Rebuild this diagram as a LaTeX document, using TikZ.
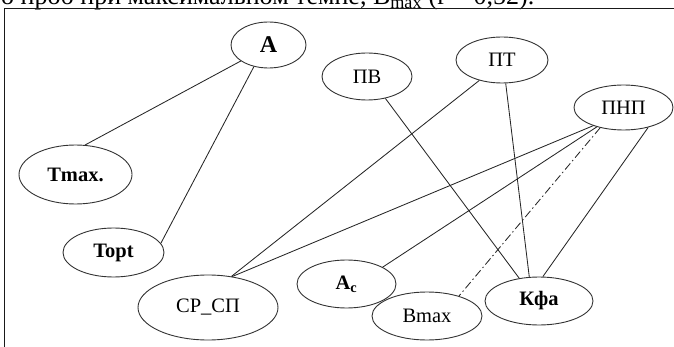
\documentclass[tikz,border=0pt]{standalone}
\usepackage{fontspec}
\setmainfont{Liberation Serif}
\usetikzlibrary{shapes.geometric}

\tikzset{
  factor/.style={ellipse, draw=black!80, line width=0.9pt, inner sep=0pt,
    font=\fontsize{20.5}{24}\selectfont},
  boldfactor/.style={factor, font=\fontsize{20.5}{24}\selectfont\bfseries},
  link/.style={draw=black!85, line width=0.85pt},
  weaklink/.style={link, dash pattern=on 8pt off 3pt on 1.5pt off 3pt},
}

\begin{document}
\begin{tikzpicture}[x=1pt,y=-1pt]
  \useasboundingbox (0,0) rectangle (674,347);
  \clip (0,0) rectangle (674,347);

  % caption line running into the top edge
  \node[anchor=base west, inner sep=0pt, font=\fontsize{26}{30}\selectfont]
    (caption) at (1,5) {о проб при максимальном темпе, B\textsubscript{max} (r = 0,52).};

  % frame
  \draw[line width=1.5pt, black!90] (4.5,347) -- (4.5,8.5) -- (674,8.5);

  % factors
  \node[boldfactor, minimum width=75pt, minimum height=46pt,
        font=\fontsize{24}{27}\selectfont\bfseries] (A) at (268.5,45) {A};
  \node[factor, minimum width=90pt, minimum height=47pt] (PV) at (367,76.5) {ПВ};
  \node[factor, minimum width=92pt, minimum height=46pt] (PT) at (502,60) {ПТ};
  \node[factor, minimum width=99pt, minimum height=45pt] (PNP) at (623.5,107.5) {ПНП};
  \node[boldfactor, minimum width=113pt, minimum height=59pt] (Tmax) at (75.5,174.5) {Tmax.};
  \node[boldfactor, minimum width=101pt, minimum height=49pt] (Topt) at (113.5,252.5) {Topt};
  \node[factor, minimum width=140pt, minimum height=65pt] (SRSP) at (208,307.5) {СР\_СП};
  \node[boldfactor, minimum width=99pt, minimum height=48pt] (Ac) at (346.5,284) {A\textsubscript{c}};
  \node[factor, minimum width=110pt, minimum height=48pt] (Bmax) at (427,316) {Bmax};
  \node[boldfactor, minimum width=108pt, minimum height=48pt] (Kfa) at (539,301) {Кфа};

  % links
  \draw[link] (A.210) -- (Tmax.72);
  \draw[link] (A.236) -- (Topt.11);
  \draw[link] (PV.310) -- (Kfa.131);
  \draw[link] (PT.222) -- (SRSP.53);
  \draw[link] (PT.279) -- (Kfa.112);
  \draw[link] (PNP.211) -- (SRSP.52);
  \draw[link] (PNP.216) -- (Ac.25);
  \draw[weaklink] (PNP.221) -- (Bmax.32);
  \draw[link] (PNP.321) -- (Kfa.81);
\end{tikzpicture}
\end{document}
